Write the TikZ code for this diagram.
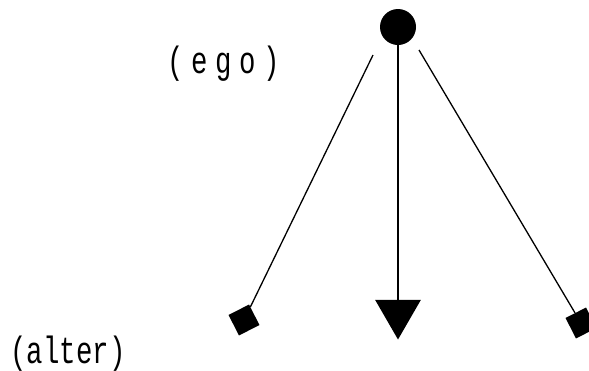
\documentclass[tikz,border=0pt]{standalone}
\usepackage{fontspec}
\setmonofont{Liberation Mono}
\usetikzlibrary{shapes.geometric}
\begin{document}
\begin{tikzpicture}[x=1pt,y=-1pt,
  lbl/.style={font=\ttfamily\fontsize{38}{38}\selectfont, inner sep=0pt, anchor=base, xscale=0.72},
  egodot/.style={circle, fill=black, minimum size=36pt, inner sep=0pt},
  altersq/.style={rectangle, fill=black, minimum size=23pt, inner sep=0pt, rotate=27},
  altertri/.style={regular polygon, regular polygon sides=3, shape border rotate=180, fill=black, minimum size=53pt, inner sep=0pt},
  tie/.style={line width=1.3pt, black}]
\useasboundingbox (0,0) rectangle (589,370);
\node[egodot] (ego) at (398,27) {};
\node[altersq] (a1) at (244,320) {};
\node[altertri] (a2) at (398,313) {};
\node[altersq] (a3) at (581,323) {};
\coordinate (s1) at (373,55);
\coordinate (s3) at (419,50);
\draw[tie] (s1) -- (a1);
\draw[tie] (ego) -- (a2);
\draw[tie] (s3) -- (a3);
\node[lbl] (egolbl) at (224,73) {\addfontfeature{LetterSpace=28}(ego)};
\node[lbl] (alterlbl) at (68,363) {(alter)};
\end{tikzpicture}
\end{document}
